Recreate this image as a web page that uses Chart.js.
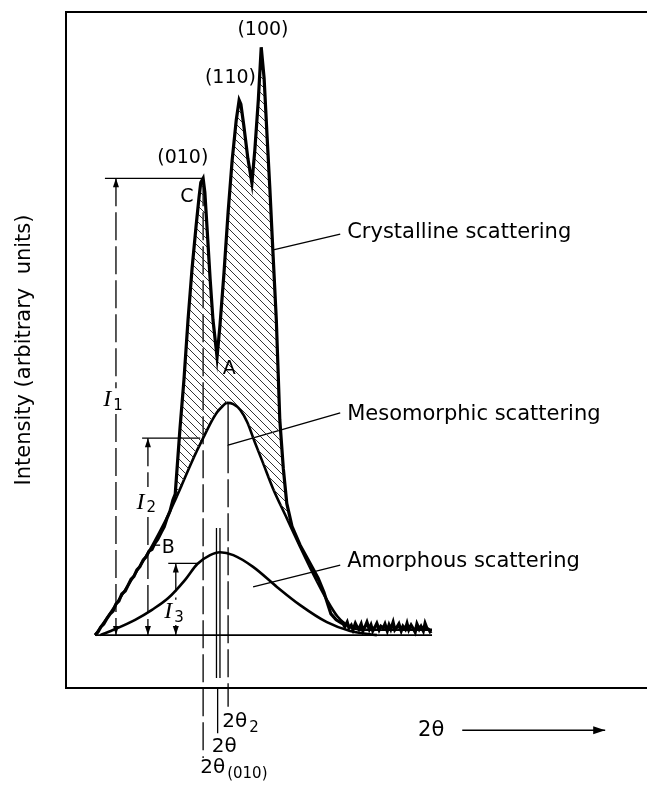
<!DOCTYPE html>
<html>
<head>
<meta charset="utf-8">
<script src="https://cdn.jsdelivr.net/npm/chart.js@4.4.0/dist/chart.umd.min.js"></script>
<style>
  html, body { margin: 0; padding: 0; background: #fff; overflow: hidden; }
  #wrap { width: 647px; height: 786px; }
  #xrd { display: block; }
</style>
</head>
<body>
<div id="wrap"><canvas id="xrd" width="647" height="786"></canvas></div>
<script>
// 2θ and intensity are both in arbitrary units
const observedX = [0.0, 0.5, 1.0, 1.5, 2.1, 2.6, 3.1, 3.6, 4.1, 4.6, 5.2, 5.7, 6.2, 6.7, 7.2, 7.7, 8.3, 8.8, 9.3, 9.8,
  10.3, 10.8, 11.4, 11.9, 12.4, 12.9, 13.4, 13.8,
  14.1, 14.6, 15.3, 16.0, 16.7, 17.4, 17.9, 18.2, 18.6, 18.9, 19.3, 19.8, 20.3, 21.0, 21.5, 22.2, 22.9, 23.6,
  24.3, 24.8, 25.1, 25.6, 26.3, 27.0, 27.5, 28.1, 28.6, 29.1, 29.6, 30.1, 30.6, 31.2, 31.5, 31.8, 32.4, 33.0,
  33.9, 35.3, 37.0, 38.4, 39.4, 40.1, 40.6, 41.5, 42.5,
  42.7, 43.0, 43.4, 43.7, 44.1, 44.4, 44.8, 45.1, 45.4, 45.8, 46.1, 46.5, 46.8, 47.2, 47.5, 47.8, 48.2, 48.5,
  48.9, 49.2, 49.6, 49.9, 50.3, 50.6, 50.9, 51.3, 51.6, 52.0, 52.3, 52.7, 53.0, 53.4, 53.7, 54.0, 54.4, 54.7,
  55.1, 55.4, 55.8, 56.1, 56.5, 56.8, 57.1, 57.5, 57.8];
const observedY = [0.0, 0.5, 1.4, 1.9, 2.9, 3.6, 4.1, 5.3, 5.8, 7.0, 7.5, 8.5, 9.5, 10.0, 11.1, 11.6, 12.8, 13.3, 14.3, 14.6,
  15.6, 16.3, 17.5, 18.4, 19.9, 21.1, 23.0, 24.0,
  28.1, 34.9, 43.4, 53.6, 62.4, 69.7, 74.5, 77.0, 77.7, 75.3, 68.9, 60.7, 53.6, 47.3, 52.7, 61.7, 71.9, 80.8,
  87.6, 91.0, 90.3, 86.7, 81.1, 76.9, 82.5, 91.0, 100.0, 94.7, 85.0, 75.7, 65.5, 53.6, 45.1, 36.6, 28.4, 22.4,
  18.5, 15.3, 12.2, 9.7, 7.3, 5.1, 3.6, 2.6, 2.0,
  1.9, 1.4, 2.2, 1.2, 1.7, 0.9, 2.0, 1.4, 1.0, 1.9, 0.7, 1.5, 2.2, 1.0, 1.7, 0.7, 1.4, 2.0,
  0.9, 1.5, 1.2, 1.9, 0.7, 1.7, 1.0, 2.2, 0.9, 1.4, 1.9, 0.7, 1.5, 1.0, 2.0, 0.9, 1.7, 1.2,
  0.5, 1.9, 1.0, 1.5, 0.7, 2.0, 1.2, 0.9, 0.3];

const mesoX = [0.0, 1.7, 3.4, 5.7, 7.7, 9.5, 11.2, 12.6, 13.8, 15.0, 16.4, 17.6, 18.6, 19.8, 21.0, 21.9, 22.7,
  23.8, 25.0, 26.2, 27.5, 28.9, 30.6, 33.0, 35.3, 37.5, 39.9, 41.7, 43.9, 46.5, 49.1, 58.0];
const mesoY = [0.0, 2.4, 4.9, 8.5, 11.7, 14.6, 17.7, 20.4, 23.0, 25.7, 28.9, 31.5, 33.5, 35.9, 37.9, 38.9, 39.5,
  39.3, 38.3, 36.2, 32.8, 29.3, 25.0, 19.9, 15.0, 10.5, 6.0, 3.2, 1.4, 0.9, 0.9, 0.9];

const amorphX = [0.9, 3.4, 6.9, 9.8, 12.6, 15.5, 17.6, 19.8, 21.5, 23.8, 27.2, 31.3, 35.3, 39.9, 43.9, 48.5];
const amorphY = [0.0, 1.0, 2.6, 4.3, 6.3, 9.4, 12.1, 13.6, 14.1, 13.6, 11.6, 8.2, 5.1, 2.2, 0.7, 0.0];

// reflection positions and the three measured heights
const peakNames = ['(010)', '(110)', '(100)'];
const theta010 = 18.6, thetaAmorph = 21.2, theta2 = 22.9;
const levelI = [77.7, 33.5, 12.2];

const ink = '#000';
const sans = '"DejaVu Sans", sans-serif';

function xy(xs, ys) { return xs.map((v, i) => ({ x: v, y: ys[i] })); }

function guide(points, dash, width) {
  return {
    data: points.map(([a, b]) => ({ x: a, y: b })),
    borderColor: ink, borderWidth: width || 1.3, borderDash: dash || [],
    pointRadius: 0, showLine: true, fill: false, clip: false, tension: 0
  };
}

function makeHatch(ctx) {
  const c = document.createElement('canvas');
  c.width = 8; c.height = 8;
  const g = c.getContext('2d');
  g.strokeStyle = '#333';
  g.lineWidth = 1;
  g.beginPath();
  g.moveTo(-1, -1); g.lineTo(9, 9);
  g.moveTo(-1, 7); g.lineTo(1, 9);
  g.moveTo(7, -1); g.lineTo(9, 1);
  g.stroke();
  return ctx.createPattern(c, 'repeat');
}

const canvas = document.getElementById('xrd');
const hatch = makeHatch(canvas.getContext('2d'));
const longDash = [28, 6];

const datasets = [
  { // observed trace; hatched where it rises above the mesomorphic halo
    data: xy(observedX, observedY), borderColor: ink, borderWidth: 3.2, tension: 0, pointRadius: 0, showLine: true,
    fill: { target: 1, above: hatch, below: 'rgba(0,0,0,0)' }
  },
  {
    data: xy(mesoX, mesoY), borderColor: ink, borderWidth: 2.6, cubicInterpolationMode: 'monotone',
    pointRadius: 0, showLine: true, fill: false
  },
  {
    data: xy(amorphX, amorphY), borderColor: ink, borderWidth: 2.6, cubicInterpolationMode: 'monotone',
    pointRadius: 0, showLine: true, fill: false
  },
  guide([[0, 0], [58, 0]], null, 1.6),
  // I1, I2, I3 height markers
  guide([[1.7, levelI[0]], [theta010, levelI[0]]]),
  guide([[3.6, levelI[0]], [3.6, 42.0]], longDash),
  guide([[3.6, 37.6], [3.6, 0]], longDash),
  guide([[8.1, levelI[1]], [18.1, levelI[1]]]),
  guide([[9.1, levelI[1]], [9.1, 25.2]], longDash),
  guide([[9.1, 20.1], [9.1, 0]], longDash),
  guide([[12.6, levelI[2]], [17.6, levelI[2]]]),
  guide([[13.9, levelI[2]], [13.9, 6.0]], longDash),
  guide([[13.9, 1.7], [13.9, 0]]),
  // angle markers
  guide([[theta010, levelI[0]], [theta010, -20.9]], longDash),
  guide([[thetaAmorph - 0.3, 18.2], [thetaAmorph - 0.3, -7.3]]),
  guide([[thetaAmorph + 0.3, 18.2], [thetaAmorph + 0.3, -7.3]]),
  guide([[thetaAmorph - 0.1, -9.0], [thetaAmorph - 0.1, -16.7]]),
  guide([[theta2, 32.3], [theta2, -12.2]], longDash),
  // leaders
  guide([[30.5, 65.5], [42.2, 68.2]]),
  guide([[theta2, 39.5], [theta2, 32.3], [42.2, 37.8]]),
  guide([[27.2, 8.2], [42.2, 11.9]]),
  guide([[9.8, 15.3], [11.2, 15.3]]),
  guide([[63.2, -16.2], [87.8, -16.2]], null, 1.6)
];

const notes = [
  { text: peakNames[2], x: 28.9, y: 102.9 },
  { text: peakNames[1], x: 23.3, y: 94.7 },
  { text: peakNames[0], x: 15.1, y: 81.1 },
  { text: 'C', x: 15.8, y: 74.6 },
  { text: 'A', x: 23.1, y: 45.3 },
  { text: 'B', x: 12.6, y: 14.8 },
  { text: 'Crystalline scattering', x: 43.4, y: 68.4, align: 'left', size: 21 },
  { text: 'Mesomorphic scattering', x: 43.4, y: 37.5, align: 'left', size: 21 },
  { text: 'Amorphous scattering', x: 43.4, y: 12.5, align: 'left', size: 21 },
  { text: 'I', sub: '1', italic: true, x: 3.1, y: 40.0 },
  { text: 'I', sub: '2', italic: true, x: 8.8, y: 22.6 },
  { text: 'I', sub: '3', italic: true, x: 13.6, y: 3.9 },
  { text: '2θ', sub: '2', x: 21.9, y: -14.8, align: 'left', size: 20 },
  { text: '2θ', x: 20.1, y: -19.0, align: 'left', size: 20 },
  { text: '2θ', sub: peakNames[0], x: 18.1, y: -22.6, align: 'left', size: 20 },
  { text: '2θ', x: 55.6, y: -16.2, align: 'left', size: 21 }
];

const heads = [
  { x: 3.6, y: levelI[0], dir: 'up' }, { x: 3.6, y: 0, dir: 'down' },
  { x: 9.1, y: levelI[1], dir: 'up' }, { x: 9.1, y: 0, dir: 'down' },
  { x: 13.9, y: levelI[2], dir: 'up' }, { x: 13.9, y: 0, dir: 'down' },
  { x: 87.8, y: -16.2, dir: 'right' }
];

const figureNotes = {
  id: 'figureNotes',
  afterDatasetsDraw(chart) {
    const { ctx } = chart;
    const sx = chart.scales.x, sy = chart.scales.y;
    ctx.save();
    ctx.fillStyle = ink;
    ctx.textBaseline = 'middle';
    notes.forEach(n => {
      const px = sx.getPixelForValue(n.x), py = sy.getPixelForValue(n.y);
      const main = n.italic ? 'italic 24px "Liberation Serif", serif' : (n.size || 19) + 'px ' + sans;
      const small = (n.italic ? '15px ' : '15px ') + sans;
      ctx.font = main;
      const w = ctx.measureText(n.text).width;
      let sw = 0;
      if (n.sub) { ctx.font = small; sw = ctx.measureText(n.sub).width + 2; }
      const left = n.align === 'left' ? px : px - (w + sw) / 2;
      ctx.textAlign = 'left';
      ctx.font = main;
      ctx.fillText(n.text, left, py);
      if (n.sub) {
        ctx.font = small;
        ctx.fillText(n.sub, left + w + 2, py + 6);
      }
    });
    heads.forEach(h => {
      const px = sx.getPixelForValue(h.x), py = sy.getPixelForValue(h.y);
      const len = 9, half = 3;
      ctx.beginPath();
      if (h.dir === 'up') { ctx.moveTo(px, py); ctx.lineTo(px - half, py + len); ctx.lineTo(px + half, py + len); }
      else if (h.dir === 'down') { ctx.moveTo(px, py); ctx.lineTo(px - half, py - len); ctx.lineTo(px + half, py - len); }
      else { ctx.moveTo(px, py); ctx.lineTo(px - len - 3, py - half - 1); ctx.lineTo(px - len - 3, py + half + 1); }
      ctx.closePath();
      ctx.fill();
    });
    ctx.restore();
  }
};

const frameBorder = { display: true, color: ink, width: 2 };

new Chart(canvas, {
  type: 'scatter',
  data: { datasets },
  options: {
    responsive: false,
    animation: false,
    devicePixelRatio: 1,
    layout: { padding: 0 },
    plugins: { legend: { display: false }, tooltip: { enabled: false } },
    scales: {
      x: {
        type: 'linear', min: -5, max: 95, position: 'bottom',
        ticks: { display: false }, grid: { display: false }, border: frameBorder,
        afterFit: s => { s.height = 98; }
      },
      xTop: {
        type: 'linear', min: -5, max: 95, position: 'top',
        ticks: { display: false }, grid: { display: false }, border: frameBorder,
        afterFit: s => { s.height = 12; }
      },
      y: {
        type: 'linear', min: -9, max: 106,
        ticks: { display: false }, grid: { display: false }, border: frameBorder,
        title: {
          display: true, text: 'Intensity (arbitrary  units)', color: ink,
          font: { family: sans, size: 21 }, padding: { top: 12, bottom: 0 }
        },
        afterFit: s => { s.width = 66; }
      }
    }
  },
  plugins: [figureNotes]
});
</script>
</body>
</html>
